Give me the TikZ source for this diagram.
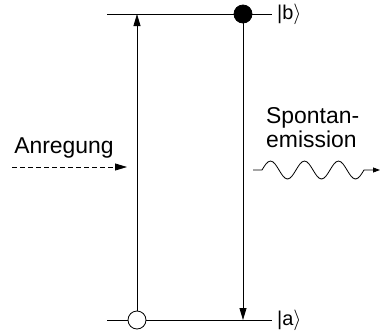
\documentclass[tikz,border=0pt]{standalone}
\usepackage{fontspec}
\setmainfont{Liberation Sans}
\usetikzlibrary{arrows.meta,positioning}
\tikzset{
  level/.style={line width=0.8bp},
  trans/.style={line width=0.8bp, -{Triangle[length=12bp,width=7bp]}},
  pump/.style={line width=0.8bp, dash pattern=on 4.5bp off 3.5bp,
               -{Triangle[length=12bp,width=7bp]}},
  photon/.style={line width=0.8bp, -{Triangle[length=7bp,width=5bp]}},
  dotfull/.style={circle, draw, fill=black, line width=0.8bp,
                  minimum size=18bp, inner sep=0pt},
  dotopen/.style={circle, draw, fill=white, line width=0.8bp,
                  minimum size=18bp, inner sep=0pt},
  ket/.style={inner sep=0pt, font=\fontsize{20}{22}\selectfont},
  lbl/.style={inner sep=0pt, font=\fontsize{23}{24}\selectfont}
}

\begin{document}
\begin{tikzpicture}[x=1bp, y=-1bp]
  \useasboundingbox (0,0) rectangle (382,334);
  % energy levels
  \coordinate (bL) at (107,14);  \coordinate (bR) at (272,14);
  \coordinate (aL) at (107,320); \coordinate (aR) at (272,320);
  \draw[level] (bL) -- (bR);
  \draw[level] (aL) -- (aR);
  \node[dotfull] (b) at (243,14) {};
  \node[dotopen] (a) at (137,320) {};
  \node[ket, right=5bp of bR] (kb) {|b$\rangle$};
  \node[ket, right=5bp of aR] (ka) {|a$\rangle$};
  % transitions
  \draw[trans] (a) -- (a |- bL);
  \draw[trans] (b) -- (b |- aL);
  % excitation
  \node[lbl] (exc) at (64,148) {Anregung};
  \coordinate (e0) at (12,167); \coordinate (e1) at (127,167);
  \draw[pump] (e0) -- (e1);
  % spontaneous emission
  \node[lbl, align=left, anchor=south west] (spont) at (266,148) {Spontan-\\emission};
  \coordinate (w0) at (253,170); \coordinate (w1) at (380,170);
  \draw[photon] (w0) -- ++(9,0)
    sin ++(8.5,-9) cos ++(8.5,9) sin ++(8.5,9) cos ++(8.5,-9)
    sin ++(8.5,-9) cos ++(8.5,9) sin ++(8.5,9) cos ++(8.5,-9)
    sin ++(8.5,-9) cos ++(8.5,9) sin ++(8.5,9) cos ++(8.5,-9)
    -- (w1);
\end{tikzpicture}
\end{document}
